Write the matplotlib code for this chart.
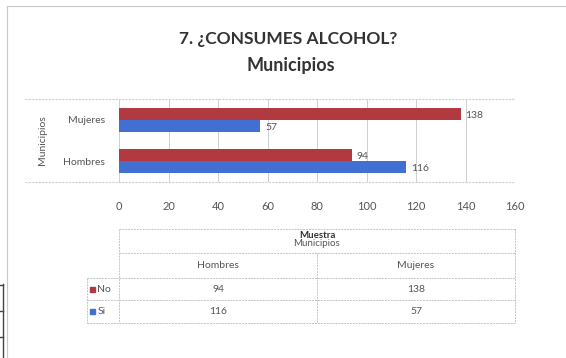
import numpy as np
import matplotlib.pyplot as plt
from matplotlib.lines import Line2D
from matplotlib.patches import Rectangle

plt.rcParams['font.family'] = ['Lato', 'DejaVu Sans']

# Data ===========================================================================
categorias = ['Hombres', 'Mujeres']
no_vals    = [94, 138]
si_vals    = [116, 57]
series     = ['No', 'Si']
x_ticks    = [0, 20, 40, 60, 80, 100, 120, 140, 160]

RED   = '#b03a3f'
BLUE  = '#4270d2'
GRID  = '#cfcfcf'
TXT   = '#555555'

W, H = 566, 358
fig = plt.figure(figsize=(W / 100, H / 100), dpi=100)


def px(x0, y0, x1, y1):
    """Pixel box (top-left origin) -> figure rect."""
    return [x0 / W, 1 - y1 / H, (x1 - x0) / W, (y1 - y0) / H]


def fig_line(xs, ys, **kw):
    fig.add_artist(Line2D([x / W for x in xs], [1 - y / H for y in ys],
                          transform=fig.transFigure, **kw))


# outer chart border
fig_line([7, W], [6, 6], color='#c8c8c8', lw=0.8)
fig_line([7, 7], [6, H], color='#c8c8c8', lw=0.8)

# little bracket at the bottom-left edge
fig_line([2.5, 2.5], [284, H], color='#444444', lw=1.0)
for yy in [285, 311, 337]:
    fig_line([0, 2.5], [yy, yy], color='#444444', lw=1.0)

# titles
fig.text(288 / W, 1 - 39 / H, '7. ¿CONSUMES ALCOHOL?', ha='center', va='center',
         fontsize=12.5, fontweight='bold', color='#333333')
fig.text(291 / W, 1 - 65 / H, 'Municipios', ha='center', va='center',
         fontsize=13, fontweight='bold', color='#333333')

# plot area frame
fig_line([25, 515], [99, 99], color=GRID, lw=0.8, ls=(0, (2, 1)))
fig_line([25, 515], [182, 182], color=GRID, lw=0.8, ls=(0, (2, 1)))

# bar chart ======================================================================
ax = fig.add_axes(px(119, 99, 515, 182))
y = np.arange(len(categorias))
h = 0.29
b_no = ax.barh(y + h / 2, no_vals, height=h, color=RED)
b_si = ax.barh(y - h / 2, si_vals, height=h, color=BLUE)
for bars in (b_no, b_si):
    for rect in bars:
        w = rect.get_width()
        ax.text(w + 2.0, rect.get_y() + rect.get_height() / 2 - 0.04, f'{w:g}',
                ha='left', va='center', fontsize=7.5, color=TXT)

ax.set_xlim(0, 160)
ax.set_ylim(-0.5, 1.5)
ax.set_xticks(x_ticks)
ax.set_yticks(y, categorias)
ax.xaxis.grid(True, color=GRID, lw=0.7)
ax.set_axisbelow(True)
for s in ax.spines.values():
    s.set_visible(False)
ax.tick_params(axis='x', length=0, pad=14, labelsize=8, labelcolor=TXT)
ax.tick_params(axis='y', length=0, pad=10, labelsize=7.5, labelcolor=TXT)
ax.set_ylabel('Municipios', fontsize=7.5, color=TXT, labelpad=12)

# data table =====================================================================
tb = fig.add_axes(px(119, 229, 515, 323))
tb.set_xlim(0, 160)
tb.set_ylim(323, 229)
tb.axis('off')
xl = (87 - 119) / (515 - 119) * 160   # left edge of the legend column
lk = dict(color='#c4c4c4', lw=0.7, ls=(0, (2, 1)), clip_on=False)

for yy in [229, 253]:
    tb.plot([0, 160], [yy, yy], **lk)
for yy in [278, 300, 323]:
    tb.plot([xl, 160], [yy, yy], **lk)
tb.plot([0, 0], [229, 323], **lk)
tb.plot([160, 160], [229, 323], **lk)
tb.plot([80, 80], [253, 323], **lk)
tb.plot([xl, xl], [278, 323], **lk)

tb.text(80, 235, 'Muestra', ha='center', va='center', fontsize=7,
        fontweight='bold', color='#333333')
tb.text(80, 243, 'Municipios', ha='center', va='center', fontsize=7, color=TXT)
for i, cat in enumerate(categorias):
    cx = 40 + 80 * i
    tb.text(cx, 266, cat, ha='center', va='center', fontsize=7.5, color=TXT)
    tb.text(cx, 289, f'{no_vals[i]}', ha='center', va='center', fontsize=7.5, color=TXT)
    tb.text(cx, 311, f'{si_vals[i]}', ha='center', va='center', fontsize=7.5, color=TXT)

for name, col, yy in zip(series, [RED, BLUE], [289, 311]):
    tb.add_patch(Rectangle((xl + 1.2, yy - 2.5), 2.2, 5, color=col, clip_on=False))
    tb.text(xl + 4.2, yy, name, ha='left', va='center', fontsize=7.5, color=TXT)

fig.savefig('out.png', dpi=100)
